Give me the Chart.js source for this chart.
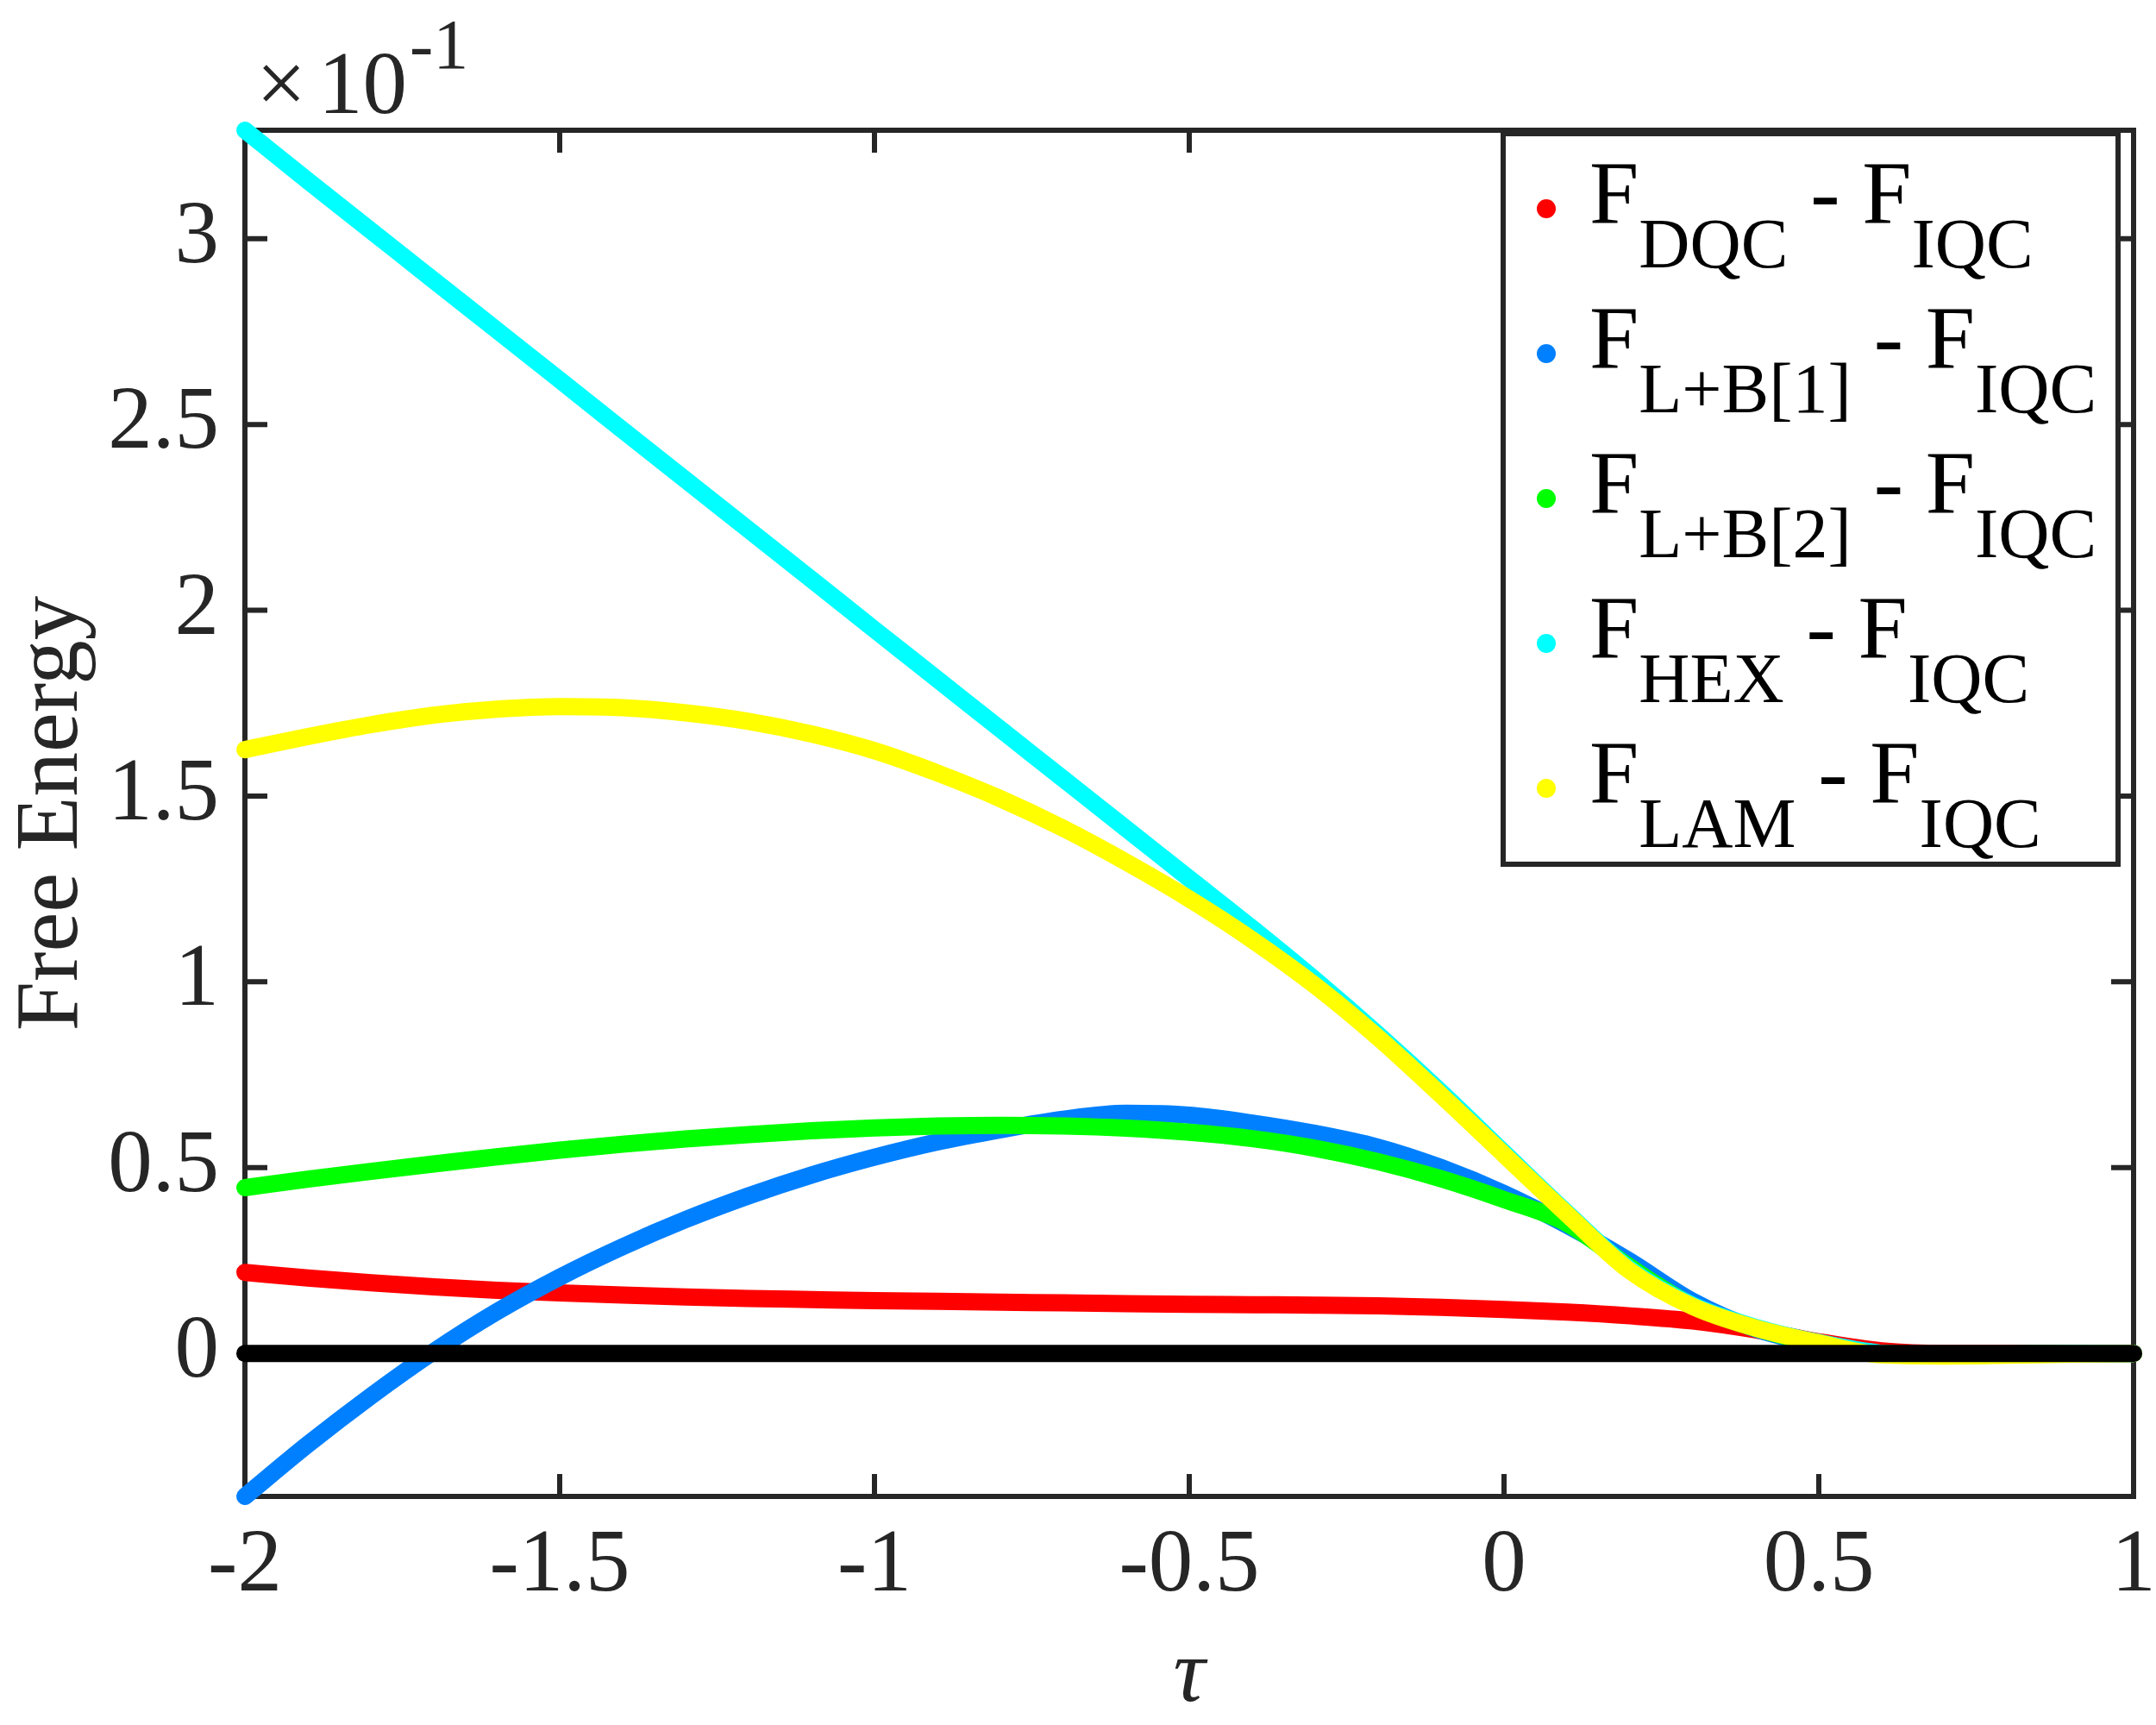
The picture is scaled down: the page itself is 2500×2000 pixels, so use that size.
<!DOCTYPE html>
<html>
<head>
<meta charset="utf-8">
<title>Free Energy vs tau</title>
<script src="https://cdn.jsdelivr.net/npm/chart.js@4.4.1/dist/chart.umd.min.js"></script>
<style>
  html, body { margin: 0; padding: 0; background: #fff; }
  #wrap { width: 2500px; height: 2000px; position: relative; }
</style>
</head>
<body>
<div id="wrap"><canvas id="freeEnergyChart"></canvas></div>
<script>
  // tau grid and curves, values in units of 10^-1
  const tau = [-2.0, -1.9, -1.8, -1.7, -1.6, -1.5, -1.4, -1.3, -1.2, -1.1, -1.0,
               -0.9, -0.8, -0.7, -0.6, -0.5, -0.4, -0.3, -0.2, -0.1, 0.0,
                0.1, 0.2, 0.3, 0.4, 0.5, 0.6, 0.7, 0.8, 0.9, 1.0];
  const dqc  = [0.218, 0.203, 0.190, 0.179, 0.170, 0.163, 0.157, 0.152, 0.148, 0.145, 0.142,
                0.140, 0.138, 0.136, 0.134, 0.132, 0.131, 0.130, 0.128, 0.124, 0.118,
                0.111, 0.101, 0.087, 0.063, 0.031, 0.007, 0.0, 0.0, 0.0, 0.0];
  const lb1  = [-0.385, -0.245, -0.115, 0.005, 0.112, 0.205, 0.287, 0.360, 0.424, 0.480, 0.528,
                0.569, 0.602, 0.630, 0.646, 0.641, 0.620, 0.592, 0.555, 0.500, 0.430,
                0.345, 0.248, 0.140, 0.066, 0.024, 0.0, -0.003, -0.002, 0.0, 0.0];
  const lb2  = [0.446, 0.469, 0.490, 0.510, 0.529, 0.547, 0.563, 0.577, 0.589, 0.599, 0.607,
                0.612, 0.614, 0.612, 0.606, 0.595, 0.578, 0.552, 0.516, 0.470, 0.414,
                0.350, 0.232, 0.128, 0.068, 0.026, 0.0, -0.003, -0.002, 0.0, 0.0];
  const hex  = [3.292, 3.156, 3.022, 2.888, 2.754, 2.620, 2.485, 2.351, 2.217, 2.083, 1.948,
                1.814, 1.680, 1.546, 1.412, 1.278, 1.144, 1.005, 0.858, 0.703, 0.540,
                0.378, 0.226, 0.129, 0.070, 0.029, 0.0, -0.006, -0.004, -0.001, 0.0];
  const lam  = [1.625, 1.660, 1.692, 1.718, 1.734, 1.741, 1.738, 1.724, 1.701, 1.667, 1.622,
                1.562, 1.493, 1.413, 1.322, 1.223, 1.113, 0.990, 0.850, 0.695, 0.535,
                0.375, 0.222, 0.126, 0.068, 0.028, -0.004, -0.007, -0.005, -0.002, 0.0];
  const iqc  = tau.map(() => 0); // reference line F_IQC - F_IQC

  const xTicks = [-2, -1.5, -1, -0.5, 0, 0.5, 1];
  const yTicks = [0, 0.5, 1, 1.5, 2, 2.5, 3];
  const legendSubs = ["DQC", "L+B[1]", "L+B[2]", "HEX", "LAM"];
  const legendColors = ["#ff0000", "#0080ff", "#00ff00", "#00ffff", "#ffff00"];

  const SERIF = '"Liberation Serif", "Times New Roman", serif';
  const AXIS = "#262626";

  function pts(ys) {
    return tau.map((t, i) => ({ x: t, y: ys[i] }));
  }

  function series(data, color, order) {
    return {
      data: pts(data),
      borderColor: color,
      backgroundColor: color,
      borderWidth: 20,
      borderCapStyle: "round",
      borderJoinStyle: "round",
      pointRadius: 0,
      cubicInterpolationMode: "monotone",
      clip: false,
      order: order,
    };
  }

  // box with inward ticks on all four sides (MATLAB style), under the data
  const frameTicks = {
    id: "frameTicks",
    beforeDatasetsDraw(chart) {
      const { ctx, chartArea: a, scales } = chart;
      ctx.save();
      ctx.strokeStyle = AXIS;
      ctx.lineWidth = 6;
      ctx.strokeRect(a.left, a.top, a.right - a.left, a.bottom - a.top);
      ctx.beginPath();
      xTicks.forEach((v) => {
        const p = scales.x.getPixelForValue(v);
        ctx.moveTo(p, a.bottom); ctx.lineTo(p, a.bottom - 26);
        ctx.moveTo(p, a.top);    ctx.lineTo(p, a.top + 26);
      });
      yTicks.forEach((v) => {
        const p = scales.y.getPixelForValue(v);
        ctx.moveTo(a.left, p);  ctx.lineTo(a.left + 26, p);
        ctx.moveTo(a.right, p); ctx.lineTo(a.right - 26, p);
      });
      ctx.stroke();
      ctx.restore();
    },
  };

  // exponent label and legend with subscripts, on top
  const overlay = {
    id: "overlay",
    afterDraw(chart) {
      const { ctx, chartArea: a } = chart;
      ctx.save();
      ctx.textAlign = "left";
      ctx.textBaseline = "alphabetic";

      ctx.fillStyle = AXIS;
      ctx.font = `103px ${SERIF}`;
      ctx.fillText("\u00d7", a.left + 13, a.top - 20);
      ctx.fillText("10", a.left + 85, a.top - 20);
      ctx.font = `82px ${SERIF}`;
      ctx.fillText("-1", a.left + 191, a.top - 72);

      const box = { left: a.right - 731, top: a.top + 4, w: 713, h: 847 };
      ctx.fillStyle = "#fff";
      ctx.fillRect(box.left, box.top, box.w, box.h);
      ctx.strokeStyle = AXIS;
      ctx.lineWidth = 6;
      ctx.strokeRect(box.left, box.top, box.w, box.h);

      const main = `103px ${SERIF}`;
      const sub = `82px ${SERIF}`;
      legendSubs.forEach((s, i) => {
        const my = box.top + 87 + i * 168;
        ctx.fillStyle = legendColors[i];
        ctx.beginPath();
        ctx.arc(box.left + 50, my, 11, 0, Math.PI * 2);
        ctx.fill();

        const base = my + 16;
        let x = box.left + 100;
        ctx.fillStyle = "#000";
        ctx.font = main; ctx.fillText("F", x, base); x += ctx.measureText("F").width;
        ctx.font = sub;  ctx.fillText(s, x, base + 52); x += ctx.measureText(s).width;
        ctx.font = main; ctx.fillText(" - F", x, base); x += ctx.measureText(" - F").width;
        ctx.font = sub;  ctx.fillText("IQC", x, base + 52);
      });
      ctx.restore();
    },
  };

  new Chart(document.getElementById("freeEnergyChart"), {
    type: "line",
    data: {
      datasets: [
        series(dqc, "#ff0000", 5),
        series(lb1, "#0080ff", 4),
        series(lb2, "#00ff00", 3),
        series(hex, "#00ffff", 2),
        series(lam, "#ffff00", 1),
        series(iqc, "#000000", 0),
      ],
    },
    options: {
      responsive: true,
      maintainAspectRatio: false,
      animation: false,
      events: [],
      layout: { padding: { left: 0, top: 151, right: 26, bottom: 0 } },
      plugins: { legend: { display: false }, tooltip: { enabled: false } },
      scales: {
        x: {
          type: "linear",
          min: -2,
          max: 1,
          grid: { display: false, drawTicks: false },
          border: { display: false },
          afterBuildTicks: (s) => { s.ticks = xTicks.map((v) => ({ value: v })); },
          afterFit: (s) => { s.height = 265; s.paddingLeft = 0; s.paddingRight = 0; },
          ticks: {
            autoSkip: false,
            maxRotation: 0,
            padding: 20,
            color: AXIS,
            font: { family: SERIF, size: 103 },
            callback: (v) => String(v),
          },
          title: {
            display: true,
            text: "\u03c4",
            color: AXIS,
            font: { family: SERIF, size: 103, style: "italic", lineHeight: 1.0 },
            padding: { top: 0, bottom: 4 },
          },
        },
        y: {
          type: "linear",
          min: -0.385,
          max: 3.292,
          grid: { display: false, drawTicks: false },
          border: { display: false },
          afterBuildTicks: (s) => { s.ticks = yTicks.map((v) => ({ value: v })); },
          afterFit: (s) => { s.width = 284; s.paddingTop = 0; s.paddingBottom = 0; },
          ticks: {
            autoSkip: false,
            padding: 30,
            color: AXIS,
            font: { family: SERIF, size: 103 },
            callback: (v) => String(v),
          },
          title: {
            display: true,
            text: "Free Energy",
            color: AXIS,
            font: { family: SERIF, size: 103, lineHeight: 1.2 },
            padding: { top: 0, bottom: 0 },
          },
        },
      },
    },
    plugins: [frameTicks, overlay],
  });
</script>
</body>
</html>
